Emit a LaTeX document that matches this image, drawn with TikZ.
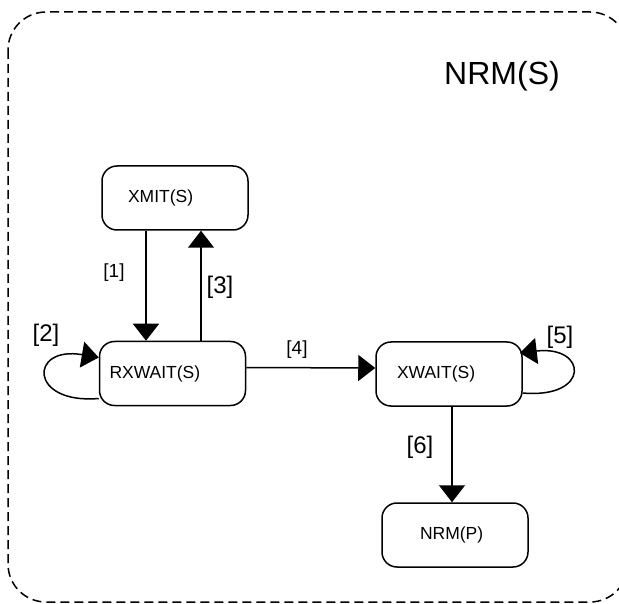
\documentclass[tikz,border=0pt]{standalone}
\usepackage{fontspec}
\setmainfont{Liberation Sans}
\usetikzlibrary{arrows.meta}

\begin{document}
\begin{tikzpicture}[x=1pt, y=-1pt, line width=1.5pt,
        state/.style={draw, rounded corners=15pt, text width=146pt, inner xsep=0pt,
            minimum height=64pt, align=left, execute at begin node=\hspace*{#1},
            font=\fontsize{17.5}{17.5}\selectfont},
        lbl/.style={inner sep=0pt, font=\fontsize{24}{24}\selectfont},
        slbl/.style={inner sep=0pt, font=\fontsize{19}{19}\selectfont},
        -{Triangle[width=26pt,length=17pt]}]
        \useasboundingbox (0,0) rectangle (619,604);
        \draw[-, dash pattern=on 9pt off 5pt, rounded corners=38pt] (8,12) rectangle (628,602);

        \node (title) at (502,76) [font=\fontsize{32}{32}\selectfont] {NRM(S)};

        \node[state=26pt] (xmit) at (175,198) {XMIT(S)};
        \node[state=10pt] (rxwait) at (172.5,373.5) {RXWAIT(S)};
        \node[state=21pt] (xwait) at (449,374) {XWAIT(S)};
        \node[state=38pt] (nrmp) at (455,535) {NRM(P)};

        \node[slbl] (t1) at (114,273) {[1]};
        \node[lbl] (t2) at (46,335) {[2]};
        \node[lbl] (t3) at (220,287) {[3]};
        \node[slbl] (t4) at (297,350) {[4]};
        \node[lbl] (t5) at (560,337) {[5]};
        \node[lbl] (t6) at (420,447) {[6]};

        \draw ([xshift=-29pt]xmit.south) -- ([xshift=-26.5pt]rxwait.north);
        \draw ([xshift=28.5pt]rxwait.north) -- ([xshift=26pt]xmit.south);
        \draw ([yshift=-25pt]rxwait.west) .. controls +(-70,6) and +(-70,-12) .. ([yshift=16pt]rxwait.west);
        \draw ([yshift=6pt]rxwait.east) -- ([yshift=6pt]xwait.west);
        \draw ([yshift=-19pt]xwait.east) .. controls +(68,6) and +(68,-8) .. ([xshift=-3pt,yshift=21pt]xwait.east);
        \draw ([xshift=3pt]xwait.south) -- ([xshift=-3pt]nrmp.north);
      \end{tikzpicture}
\end{document}
